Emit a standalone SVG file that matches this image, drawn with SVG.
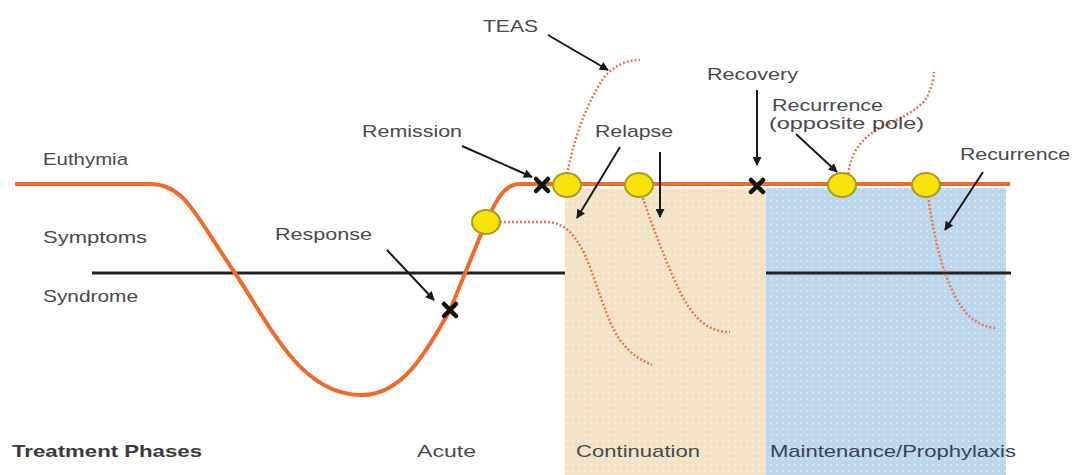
<svg xmlns="http://www.w3.org/2000/svg" width="1077" height="475" viewBox="0 0 1077 475">
<style>
.lbl{font-family:"Liberation Sans",Arial,sans-serif;font-size:17px;fill:#4a4a4a;}
.sm{font-size:16px;}
.bold{font-weight:bold;fill:#3a3a3a;}
.arrow{stroke:#1a1a1a;stroke-width:2;fill:none;marker-end:url(#ah);}
.dots{fill:none;stroke:#ec7650;stroke-width:2.5;stroke-dasharray:2 2;}
.circ{fill:#f7e20a;stroke:#a89a22;stroke-width:2;}
.xm{stroke:#111;stroke-width:4.5;stroke-linecap:round;}
.main{fill:none;stroke:#f06a2c;stroke-width:4;stroke-linejoin:round;}
.syn{stroke:#222;stroke-width:3;}
</style>
<defs>
<marker id="ah" viewBox="0 0 10 10" refX="9" refY="5" markerWidth="10" markerHeight="9" markerUnits="userSpaceOnUse" orient="auto">
<path d="M0,0 L10,5 L0,10 z" fill="#1a1a1a"/>
</marker>
<pattern id="dotp" width="6" height="6" patternUnits="userSpaceOnUse">
<circle cx="3" cy="3" r="1" fill="#ffffff" fill-opacity="0.45"/>
</pattern>
</defs>
<rect width="1077" height="475" fill="#ffffff"/>
<g id="phase-continuation">
<rect x="565" y="188" width="201" height="287" fill="#f3e3c6"/>
<rect x="565" y="188" width="201" height="287" fill="url(#dotp)"/>
</g>
<g id="phase-maintenance">
<rect x="766" y="188" width="240" height="287" fill="#bcd6ec"/>
<rect x="766" y="188" width="240" height="287" fill="url(#dotp)"/>
</g>
<g id="syndrome-line">
<line class="syn" x1="92" y1="273" x2="565" y2="273"/>
<line class="syn" x1="766" y1="273" x2="1011" y2="273"/>
</g>
<g id="course-curve">
<path class="main" d="M15,184 L150,184 C185,184 195,215 235,273 C270,325 300,395 362,395 C405,395 430,345 450,310 L486,222 C497,198 505,184 520,184 L1010,184"/>
</g>
<g id="dotted-courses">
<path class="dots" stroke="#f2a08a" d="M567,174 C574,140 585,105 605,76 Q620,60 640,60"/>
<path class="dots" d="M500,222 L545,222 C565,222 575,235 585,255 C598,285 606,320 620,340 C632,356 642,360 652,365"/>
<path class="dots" d="M643,198 C650,220 665,260 680,292 C692,315 705,332 730,332"/>
<path class="dots" d="M848,174 C852,150 862,138 880,128 C905,116 922,108 928,95 C932,85 934,78 934,72"/>
<path class="dots" d="M928,196 C933,230 940,265 952,290 C962,312 975,326 995,328"/>
</g>
<g id="connectors">
<line class="arrow" x1="548" y1="35" x2="608" y2="70"/>
<line class="arrow" x1="462" y1="146" x2="532" y2="177"/>
<line class="arrow" x1="387" y1="250" x2="434" y2="300"/>
<line class="arrow" x1="620" y1="147" x2="577" y2="218"/>
<line class="arrow" x1="660" y1="152" x2="660" y2="217"/>
<line class="arrow" x1="757" y1="90" x2="757" y2="165"/>
<line class="arrow" x1="796" y1="134" x2="837" y2="172"/>
<line class="arrow" x1="983" y1="172" x2="945" y2="230"/>
</g>
<g id="mark-response"><path class="xm" d="M444,304 L456,316 M456,304 L444,316"/></g>
<g id="mark-remission"><path class="xm" d="M536,179 L548,191 M548,179 L536,191"/></g>
<g id="mark-recovery"><path class="xm" d="M751,180 L763,192 M763,180 L751,192"/></g>
<g id="event-1"><ellipse class="circ" cx="486" cy="222" rx="14" ry="12"/></g>
<g id="event-2"><ellipse class="circ" cx="567" cy="185" rx="14" ry="12"/></g>
<g id="event-3"><ellipse class="circ" cx="639" cy="185" rx="14" ry="12"/></g>
<g id="event-4"><ellipse class="circ" cx="842" cy="185" rx="14" ry="12"/></g>
<g id="event-5"><ellipse class="circ" cx="926" cy="185" rx="14" ry="12"/></g>
<g id="labels">
<text class="lbl" x="43" y="165" textLength="85" lengthAdjust="spacingAndGlyphs">Euthymia</text>
<text class="lbl" x="43" y="243" textLength="104" lengthAdjust="spacingAndGlyphs">Symptoms</text>
<text class="lbl" x="43" y="302" textLength="95" lengthAdjust="spacingAndGlyphs">Syndrome</text>
<text class="lbl" x="275" y="240" textLength="97" lengthAdjust="spacingAndGlyphs">Response</text>
<text class="lbl" x="362" y="137" textLength="100" lengthAdjust="spacingAndGlyphs">Remission</text>
<text class="lbl" x="483" y="32" textLength="55" lengthAdjust="spacingAndGlyphs">TEAS</text>
<text class="lbl" x="595" y="137" textLength="78" lengthAdjust="spacingAndGlyphs">Relapse</text>
<text class="lbl" x="707" y="80" textLength="91" lengthAdjust="spacingAndGlyphs">Recovery</text>
<text class="lbl sm" x="772" y="111" textLength="111" lengthAdjust="spacingAndGlyphs">Recurrence</text>
<text class="lbl sm" x="769" y="129" textLength="155" lengthAdjust="spacingAndGlyphs">(opposite pole)</text>
<text class="lbl" x="960" y="160" textLength="110" lengthAdjust="spacingAndGlyphs">Recurrence</text>
<text class="lbl bold" x="12" y="457" textLength="190" lengthAdjust="spacingAndGlyphs">Treatment Phases</text>
<text class="lbl" x="417" y="457" textLength="59" lengthAdjust="spacingAndGlyphs">Acute</text>
<text class="lbl" x="576" y="457" textLength="124" lengthAdjust="spacingAndGlyphs">Continuation</text>
<text class="lbl" x="770" y="457" textLength="246" lengthAdjust="spacingAndGlyphs" style="fill:#34435a">Maintenance/Prophylaxis</text>
</g>
</svg>
